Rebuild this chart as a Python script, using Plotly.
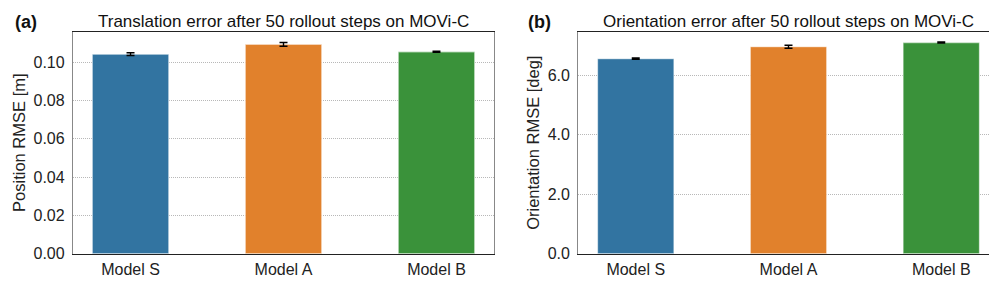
import plotly.graph_objects as go
from plotly.subplots import make_subplots

models = ["Model S", "Model A", "Model B"]
pos_rmse = [0.1042, 0.1093, 0.1054]
pos_err = [0.0007, 0.0010, 0.0003]
ori_rmse = [6.55, 6.95, 7.09]
ori_err = [0.02, 0.05, 0.02]
colors = ["#3274a1", "#e1812c", "#3a923a"]
pos_ticks = [0.0, 0.02, 0.04, 0.06, 0.08, 0.10]
ori_ticks = [0.0, 2.0, 4.0, 6.0]

FONT = "Liberation Sans, Arial, sans-serif"

fig = make_subplots(rows=1, cols=2)

for col, vals, errs in [(1, pos_rmse, pos_err), (2, ori_rmse, ori_err)]:
    fig.add_trace(go.Bar(x=models, y=vals, width=0.5,
                         marker=dict(color=colors, line=dict(color="rgba(255,255,255,0.55)", width=1.2)),
                         error_y=dict(type="data", array=errs, color="black", thickness=1.4, width=4),
                         showlegend=False), row=1, col=col)

yb, yt = (281 - 254) / 281, (281 - 24.3) / 281
tickfont = dict(family=FONT, size=16, color="#222222")
xcommon = dict(showline=True, linecolor="#222222", linewidth=1.3, mirror=True,
               ticks="", tickfont=tickfont, showgrid=False, range=[-0.376, 2.376],
               ticklabelstandoff=1)
ycommon = dict(showline=True, linecolor="#888888", linewidth=1.3, mirror=True,
               ticks="", tickfont=tickfont, showgrid=True, gridcolor="#b8b8b8",
               griddash="1px,1px", gridwidth=0.8, zeroline=False, domain=[yb, yt],
               ticklabelstandoff=4)
fig.update_xaxes(domain=[65/997, 486/997], row=1, col=1, **xcommon)
fig.update_xaxes(domain=[570.3/997, 990.7/997], row=1, col=2, **xcommon)
fig.update_yaxes(range=[0, 0.116], tickvals=pos_ticks,
                 ticktext=[f"{v:.2f}" for v in pos_ticks], row=1, col=1, **ycommon)
fig.update_yaxes(range=[0, 7.46], tickvals=ori_ticks,
                 ticktext=[f"{v:.1f}" for v in ori_ticks], row=1, col=2, **ycommon)

fig.update_yaxes(title=dict(text="Position RMSE [m]", font=dict(family=FONT, size=16.5, color="#222222"), standoff=3), row=1, col=1)
fig.update_yaxes(title=dict(text="Orientation RMSE [deg]", font=dict(family=FONT, size=16.5, color="#222222"), standoff=3), row=1, col=2)

ann = [
    dict(text="Translation error after 50 rollout steps on MOVi-C", x=275.5/997, y=1 - 14/281, size=17),
    dict(text="Orientation error after 50 rollout steps on MOVi-C", x=780.5/997, y=1 - 14/281, size=17),
    dict(text="<b>(a)</b>", x=17.5/997, y=1 - 14/281, size=18),
    dict(text="<b>(b)</b>", x=531/997, y=1 - 14/281, size=18),
]
for a in ann:
    fig.add_annotation(text=a["text"], x=a["x"], y=a["y"], xref="paper", yref="paper",
                       xanchor="center", yanchor="middle", showarrow=False,
                       font=dict(family=FONT, size=a["size"], color="#111111"))

fig.update_layout(width=997, height=281, margin=dict(l=0, r=0, t=0, b=0),
                  paper_bgcolor="white", plot_bgcolor="white", bargap=0.5)

fig.write_html("out.html")
